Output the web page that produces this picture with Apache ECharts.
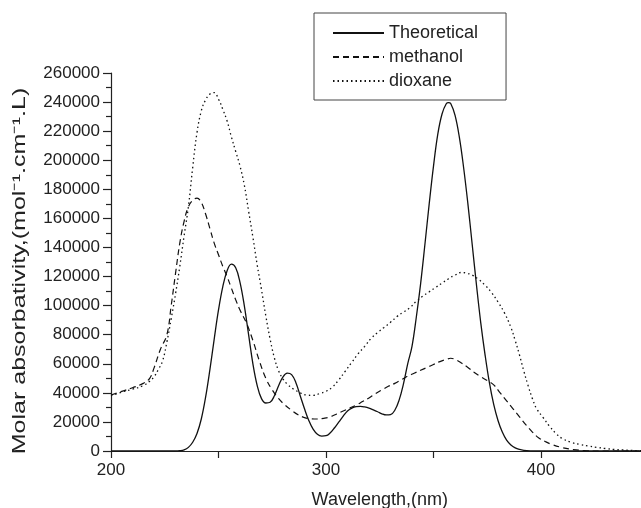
<!DOCTYPE html>
<html>
<head>
<meta charset="utf-8">
<script src="https://cdn.jsdelivr.net/npm/echarts@6/dist/echarts.min.js"></script>
<style>html,body{margin:0;padding:0;background:#fff}#c{width:641px;height:508px}</style>
</head>
<body>
<div id="c"></div>
<script>
var seriesNames = ['Theoretical', 'methanol', 'dioxane'];
var xTitle = 'Wavelength,(nm)';
var yTitle = 'Molar absorbativity,(mol\u207B\u00B9.cm\u207B\u00B9.L)';
var yTicks = [0, 20000, 40000, 60000, 80000, 100000, 120000, 140000, 160000, 180000, 200000, 220000, 240000, 260000];
var xTicks = [200, 300, 400];

var theoX = [200,210,220,230,232,234,236,238,240,242,244,246,248,250,252,254,256,258,260,262,264,266,268,270,272,274,276,278,280,282,284,286,288,290,292,294,296,298,300,302,304,306,308,310,312,314,316,318,320,322,324,326,328,330,332,334,336,338,340,342,344,346,348,350,352,354,356,357,358,360,362,364,366,368,370,372,374,376,378,380,382,384,386,388,390,392,395,400,420,450];
var theoY = [0,0,0,0,200,800,2500,6000,12000,22000,37000,56000,77000,97000,113000,124000,128500,126000,116000,100000,80000,60000,45000,36000,33000,33500,38000,45000,51000,53500,52500,47000,38000,29000,21000,15000,11500,10300,10500,12500,16000,20000,24000,27500,29500,30500,30700,30300,29500,28300,27000,25600,24800,25000,28000,35000,46000,60000,72000,92000,115000,142000,170000,196000,218000,232000,239000,239600,239000,231000,216000,195000,170000,142000,114000,88000,66000,47000,32000,21000,13000,7500,4200,2200,1100,500,150,0,0,0];

var methX = [200,205,210,215,218,220,223,226,228,230,232,234,236,238,240,242,244,246,248,250,252,254,256,258,260,263,266,269,272,275,278,281,284,287,290,293,296,299,302,305,308,311,314,317,320,323,326,329,332,335,338,341,344,347,350,353,356,358,360,363,366,369,372,375,378,381,384,387,390,393,396,399,402,405,410,415,420,425,450];
var methY = [38500,41000,43500,46500,50000,57000,70000,80000,100000,122000,143000,158000,168000,172500,174000,171000,163000,153000,143000,135000,127000,120000,112000,104000,97000,88000,76000,62000,50000,42000,36000,31500,28000,25000,23000,22200,22000,22500,23500,25500,27500,29500,31500,34000,36500,39500,42000,44500,46500,49000,51500,53500,55500,57500,59500,61500,63000,63800,63000,60500,57500,54000,51000,48500,45500,40000,34500,29000,23500,18000,13000,9000,6500,4500,2300,1000,300,0,0];

var dioxX = [200,205,210,215,218,220,222,224,226,228,230,232,234,236,238,240,242,244,246,248,250,252,254,256,258,260,262,264,266,268,270,272,274,276,278,280,282,285,288,291,294,297,300,303,306,309,312,315,318,321,324,327,330,333,336,339,342,345,348,351,354,357,360,363,365,368,371,374,377,380,383,386,388,390,392,394,396,398,401,404,407,410,414,418,422,426,430,434,438,442,446,450];
var dioxY = [38000,40500,42500,45000,48000,51000,56000,62000,75000,91000,108000,127000,148000,168000,195000,219000,234000,241500,245500,246500,242000,235000,227000,216000,206000,196000,183000,165000,147000,128000,111000,93000,77000,64000,55000,49500,46000,42500,40000,38500,38300,39500,41000,44000,49000,55000,61000,67000,72000,77500,81500,85000,88500,92500,95500,98500,103000,106500,109500,112500,115500,118500,121000,122800,122500,121000,118000,114000,109000,102500,95000,85000,76000,66000,55000,45000,36000,29000,23000,17000,12000,8500,6000,4500,3500,2500,1700,1100,700,400,200,100];

function pairs(xs, ys) { return xs.map(function (x, i) { return [x, ys[i]]; }); }

var FONT = 'Liberation Sans, Arial, sans-serif';
var INK = '#222';
var chart = echarts.init(document.getElementById('c'));
chart.setOption({
  animation: false,
  backgroundColor: '#fff',
  textStyle: { fontFamily: FONT, color: INK },
  grid: { left: 111, top: 73, width: 537.5, height: 378, containLabel: false, outerBoundsMode: 'none' },
  legend: {
    orient: 'vertical',
    left: 314, top: 13,
    padding: [11, 28, 10, 18],
    itemWidth: 51, itemHeight: 14, itemGap: 6,
    borderColor: '#444', borderWidth: 1,
    itemStyle: { opacity: 0 },
    textStyle: { fontFamily: FONT, fontSize: 18, color: INK },
    data: seriesNames
  },
  graphic: [{
    type: 'text', x: 20, y: 271, rotation: Math.PI / 2, scaleX: 1.39,
    style: { text: yTitle, font: '18px ' + FONT, fill: INK, align: 'center', verticalAlign: 'middle' }
  }],
  xAxis: {
    type: 'value', min: 200, max: 450, interval: 100,
    name: xTitle, nameLocation: 'middle', nameGap: 40,
    nameTextStyle: { fontFamily: FONT, fontSize: 18, color: INK },
    axisLine: { show: true, lineStyle: { color: INK, width: 1.2 } },
    axisTick: { show: true, inside: false, length: 7, lineStyle: { color: INK, width: 1.2 } },
    minorTick: { show: true, splitNumber: 2, length: 7, lineStyle: { color: INK, width: 1.2 } },
    splitLine: { show: false },
    axisLabel: { fontFamily: FONT, fontSize: 17, color: INK, margin: 11,
      formatter: function (v) { return xTicks.indexOf(v) >= 0 ? String(v) : ''; } }
  },
  yAxis: {
    type: 'value', min: 0, max: 260000, interval: 20000,
    axisLine: { show: true, lineStyle: { color: INK, width: 1.2 } },
    axisTick: { show: true, inside: false, length: 8, lineStyle: { color: INK, width: 1.2 } },
    minorTick: { show: true, splitNumber: 2, length: 5, lineStyle: { color: INK, width: 1.2 } },
    splitLine: { show: false },
    axisLabel: { fontFamily: FONT, fontSize: 17, color: INK, margin: 11,
      formatter: function (v) { return yTicks.indexOf(v) >= 0 ? String(v) : ''; } }
  },
  series: [
    { name: seriesNames[0], type: 'line', data: pairs(theoX, theoY), smooth: 0.4, symbol: 'none', clip: true,
      color: '#111', lineStyle: { color: '#111', width: 1.3, type: 'solid' } },
    { name: seriesNames[1], type: 'line', data: pairs(methX, methY), smooth: 0.4, symbol: 'none', clip: true,
      color: '#111', lineStyle: { color: '#111', width: 1.2, type: [6, 4] } },
    { name: seriesNames[2], type: 'line', data: pairs(dioxX, dioxY), smooth: 0.4, symbol: 'none', clip: true,
      color: '#111', lineStyle: { color: '#111', width: 1.3, type: [1.5, 3] } }
  ]
});
</script>
</body>
</html>
